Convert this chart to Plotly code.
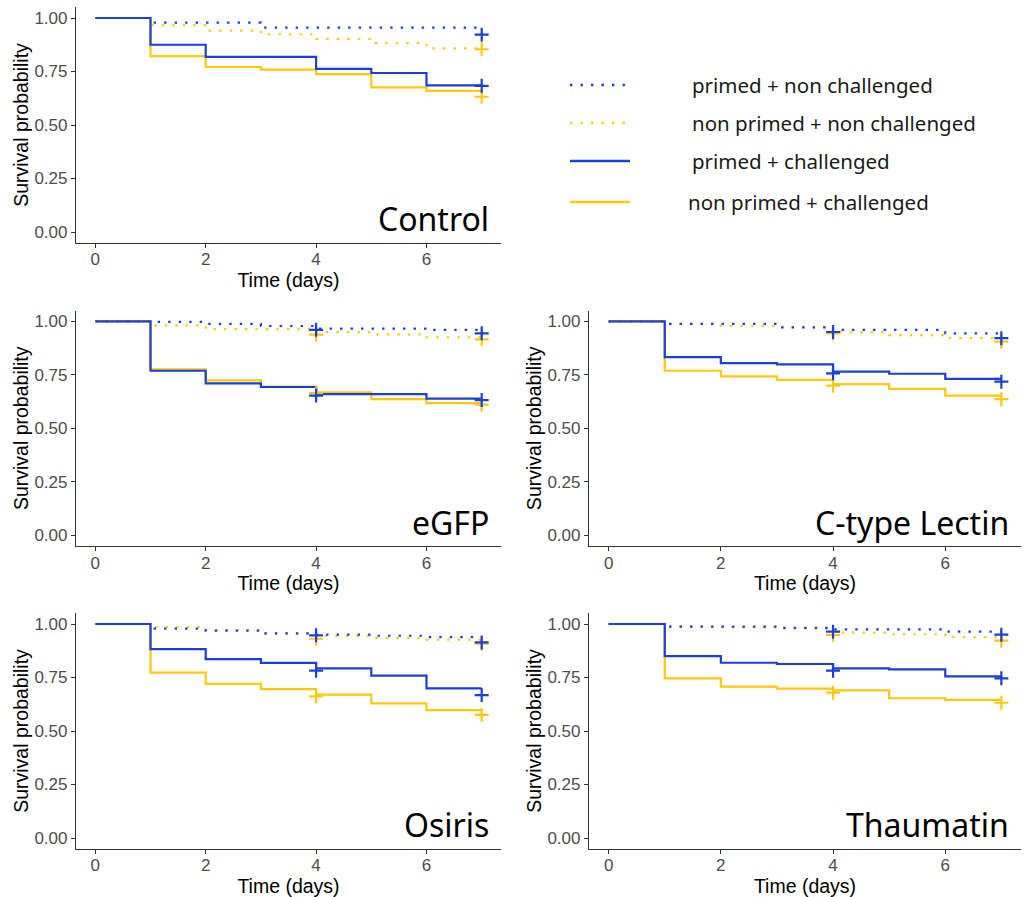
import plotly.graph_objects as go

# ---------------- data ----------------
days = [0, 1, 2, 3, 4, 5, 6, 7]
panels = ["Control", "eGFP", "C-type Lectin", "Osiris", "Thaumatin"]
series_names = ["primed + non challenged", "non primed + non challenged",
                "primed + challenged", "non primed + challenged"]

# survival at each day (value holds from that day to the next)
control_primed_nc = [1.0, 0.978, 0.978, 0.955, 0.955, 0.955, 0.955, 0.955]
control_nonprimed_nc = [1.0, 0.967, 0.941, 0.924, 0.902, 0.883, 0.858, 0.858]
control_primed_c = [1.0, 0.875, 0.818, 0.818, 0.762, 0.743, 0.685, 0.685]
control_nonprimed_c = [1.0, 0.822, 0.771, 0.759, 0.738, 0.676, 0.659, 0.659]

egfp_primed_nc = [1.0, 0.997, 0.988, 0.978, 0.966, 0.966, 0.960, 0.960]
egfp_nonprimed_nc = [1.0, 0.981, 0.963, 0.963, 0.949, 0.939, 0.925, 0.925]
egfp_primed_c = [1.0, 0.769, 0.710, 0.693, 0.660, 0.660, 0.639, 0.639]
egfp_nonprimed_c = [1.0, 0.776, 0.724, 0.695, 0.668, 0.636, 0.618, 0.618]

lectin_primed_nc = [1.0, 0.988, 0.988, 0.972, 0.960, 0.960, 0.944, 0.944]
lectin_nonprimed_nc = [1.0, 0.988, 0.978, 0.972, 0.949, 0.935, 0.921, 0.921]
lectin_primed_c = [1.0, 0.833, 0.805, 0.799, 0.765, 0.755, 0.731, 0.731]
lectin_nonprimed_c = [1.0, 0.769, 0.743, 0.726, 0.706, 0.684, 0.653, 0.653]

osiris_primed_nc = [1.0, 0.978, 0.969, 0.956, 0.950, 0.945, 0.939, 0.939]
osiris_nonprimed_nc = [1.0, 0.986, 0.972, 0.956, 0.944, 0.935, 0.927, 0.927]
osiris_primed_c = [1.0, 0.883, 0.836, 0.818, 0.793, 0.759, 0.699, 0.699]
osiris_nonprimed_c = [1.0, 0.773, 0.720, 0.696, 0.670, 0.629, 0.598, 0.598]

thaumatin_primed_nc = [1.0, 0.988, 0.988, 0.982, 0.975, 0.975, 0.964, 0.964]
thaumatin_nonprimed_nc = [1.0, 0.988, 0.985, 0.980, 0.960, 0.952, 0.938, 0.938]
thaumatin_primed_c = [1.0, 0.850, 0.819, 0.813, 0.793, 0.788, 0.755, 0.755]
thaumatin_nonprimed_c = [1.0, 0.746, 0.707, 0.698, 0.690, 0.653, 0.645, 0.645]

# censor marks (+)
control_censor_days = [7]
control_censor = {"pnc": [0.922], "npnc": [0.854], "pc": [0.683], "npc": [0.632]}
egfp_censor_days = [4, 7]
egfp_censor = {"pnc": [0.960, 0.944], "npnc": [0.938, 0.916], "pc": [0.653, 0.632], "npc": [0.664, 0.611]}
lectin_censor_days = [4, 7]
lectin_censor = {"pnc": [0.950, 0.921], "npnc": [0.943, 0.905], "pc": [0.757, 0.718], "npc": [0.699, 0.636]}
osiris_censor_days = [4, 7]
osiris_censor = {"pnc": [0.947, 0.914], "npnc": [0.931, 0.908], "pc": [0.782, 0.668], "npc": [0.662, 0.575]}
thaumatin_censor_days = [4, 7]
thaumatin_censor = {"pnc": [0.964, 0.950], "npnc": [0.949, 0.922], "pc": [0.782, 0.746], "npc": [0.679, 0.632]}

y_ticks = [0, 0.25, 0.5, 0.75, 1.0]
y_ticklabels = ["0.00", "0.25", "0.50", "0.75", "1.00"]
x_ticks = [0, 2, 4, 6]

# ---------------- styling ----------------
BLUE = "#1b3fd8"
YELLOW = "#ffc80a"
DOT = "2.4px,8.1px"
W, H = 1026, 897

panel_data = [
    ("Control", [control_primed_nc, control_nonprimed_nc, control_primed_c, control_nonprimed_c],
     control_censor_days, control_censor),
    ("eGFP", [egfp_primed_nc, egfp_nonprimed_nc, egfp_primed_c, egfp_nonprimed_c],
     egfp_censor_days, egfp_censor),
    ("C-type Lectin", [lectin_primed_nc, lectin_nonprimed_nc, lectin_primed_c, lectin_nonprimed_c],
     lectin_censor_days, lectin_censor),
    ("Osiris", [osiris_primed_nc, osiris_nonprimed_nc, osiris_primed_c, osiris_nonprimed_c],
     osiris_censor_days, osiris_censor),
    ("Thaumatin", [thaumatin_primed_nc, thaumatin_nonprimed_nc, thaumatin_primed_c, thaumatin_nonprimed_c],
     thaumatin_censor_days, thaumatin_censor),
]


def px_dom_x(l, r):
    return [l / W, r / W]


def px_dom_y(t, b):
    return [1 - b / H, 1 - t / H]


XL = px_dom_x(76, 501)
XR = px_dom_x(589, 1021)
Y1 = px_dom_y(7.3, 242.7)
Y2 = px_dom_y(310.6, 546)
Y3 = px_dom_y(613.3, 848.7)
domains = [(XL, Y1), (XL, Y2), (XR, Y2), (XL, Y3), (XR, Y3)]

# draw yellow first, blue on top
draw_order = [1, 0, 3, 2]
styles = {
    0: dict(color=BLUE, dash=DOT, key="pnc"),
    1: dict(color=YELLOW, dash=DOT, key="npnc"),
    2: dict(color=BLUE, dash="solid", key="pc"),
    3: dict(color=YELLOW, dash="solid", key="npc"),
}

TICKFONT = dict(family="Liberation Sans, Arial", size=17, color="#4d4d4d")
TITLEFONT = dict(family="Liberation Sans, Arial", size=19.5, color="#000000")

fig = go.Figure()
layout = {}
annotations = []

for i, (name, series, cdays, cens) in enumerate(panel_data):
    n = i + 1
    xa = "x" if n == 1 else f"x{n}"
    ya = "y" if n == 1 else f"y{n}"
    for s in draw_order:
        st = styles[s]
        fig.add_trace(go.Scatter(
            x=days, y=series[s], mode="lines", line_shape="hv",
            line=dict(color=st["color"], width=2.2, dash=st["dash"]),
            xaxis=xa, yaxis=ya, showlegend=False, hoverinfo="skip"))
    for s in draw_order:
        st = styles[s]
        fig.add_trace(go.Scatter(
            x=cdays, y=cens[st["key"]], mode="markers",
            marker=dict(symbol="cross-thin", size=10, line=dict(color=st["color"], width=2.2)),
            xaxis=xa, yaxis=ya, showlegend=False, hoverinfo="skip"))

    dx, dy = domains[i]
    xkey = "xaxis" if n == 1 else f"xaxis{n}"
    ykey = "yaxis" if n == 1 else f"yaxis{n}"
    layout[xkey] = dict(
        domain=dx, anchor=ya, range=[-0.35, 7.35], tickvals=x_ticks,
        showgrid=False, zeroline=False, showline=True, linecolor="#333333", linewidth=1.2,
        ticks="outside", ticklen=4, tickwidth=1.2, tickcolor="#333333",
        ticklabelstandoff=-3,
        tickfont=TICKFONT,
        title=dict(text="Time (days)", standoff=3, font=TITLEFONT),
    )
    layout[ykey] = dict(
        domain=dy, anchor=xa, range=[-0.05, 1.05], tickvals=y_ticks, ticktext=y_ticklabels,
        showgrid=False, zeroline=False, showline=True, linecolor="#333333", linewidth=1.2,
        ticks="outside", ticklen=4, tickwidth=1.2, tickcolor="#333333",
        tickfont=TICKFONT,
        title=dict(text="Survival probability", standoff=0, font=TITLEFONT),
    )
    annotations.append(dict(
        text=name, xref=f"{xa} domain", yref=ya, x=1, y=0.062,
        xanchor="right", yanchor="middle", xshift=-10, showarrow=False,
        font=dict(family="Noto Sans", size=32, color="#000000")))

# ---------------- legend (custom, hidden axis in pixel units) ----------------
leg_rows = [85, 123, 161, 202]
leg_text_x = [690, 690, 690, 686]
leg_x0, leg_x1 = 570, 630
for s in range(4):
    st = styles[s]
    fig.add_trace(go.Scatter(
        x=[leg_x0, leg_x1], y=[leg_rows[s], leg_rows[s]], mode="lines",
        line=dict(color=st["color"], width=2.6, dash=st["dash"]),
        xaxis="x6", yaxis="y6", showlegend=False, hoverinfo="skip"))
    annotations.append(dict(
        text=series_names[s], xref="x6", yref="y6", x=leg_text_x[s], y=leg_rows[s],
        xanchor="left", yanchor="middle", showarrow=False,
        font=dict(family="Noto Sans", size=20.5, color="#1a1a1a")))

layout["xaxis6"] = dict(domain=px_dom_x(550, 1020), range=[550, 1020], visible=False,
                        anchor="y6", fixedrange=True)
layout["yaxis6"] = dict(domain=px_dom_y(50, 240), range=[240, 50], visible=False,
                        anchor="x6", fixedrange=True)

fig.update_layout(
    width=W, height=H,
    margin=dict(l=0, r=0, t=0, b=0),
    paper_bgcolor="white", plot_bgcolor="white",
    showlegend=False,
    annotations=annotations,
    **layout,
)

fig.write_html("out.html",
               config={"displayModeBar": False},
               post_script="document.body.style.margin='0';document.body.style.padding='0';")
